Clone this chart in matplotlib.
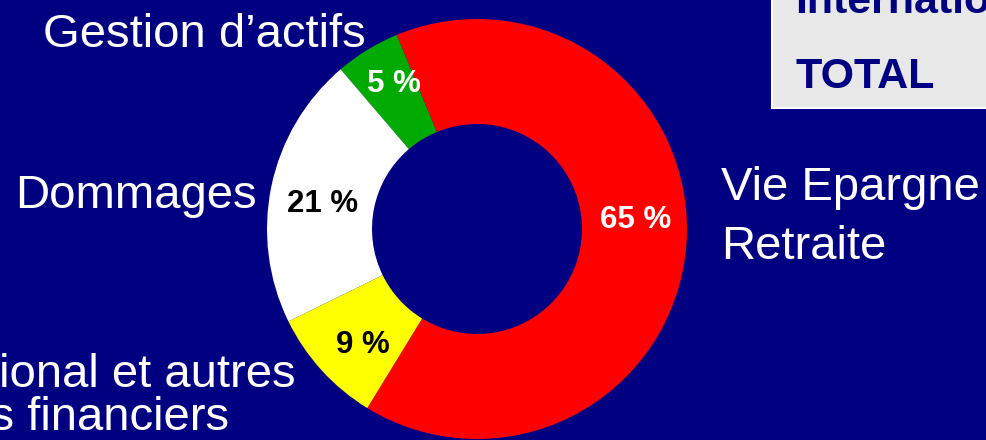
import matplotlib
matplotlib.use("Agg")
import matplotlib.pyplot as plt
from matplotlib.patches import Rectangle

# Data
categories = ["Vie Epargne Retraite", "Gestion d'actifs", "Dommages", "International et autres services financiers"]
shares = [65, 5, 21, 9]
slice_colors = ["#FF0000", "#00AA00", "#FFFFFF", "#FFFF00"]
pct_colors = ["white", "white", "black", "black"]

BG = "#000080"
W, H = 986, 440

plt.rcParams['font.family'] = ['Liberation Sans', 'DejaVu Sans']

fig = plt.figure(figsize=(W / 100, H / 100), dpi=100, facecolor=BG)
ax = fig.add_axes([0, 0, 1, 1])
ax.set_facecolor(BG)

cx, cy, R = 477, 440 - 229, 210
wedges, texts, autotexts = ax.pie(
    shares, colors=slice_colors, startangle=-121.5, counterclock=True,
    radius=R, center=(cx, cy), frame=True,
    wedgeprops=dict(width=R * 0.5, linewidth=0),
    autopct=lambda p: f"{round(p)} %", pctdistance=0.76,
    textprops=dict(fontsize=22.5, fontweight='bold'))
for t, c in zip(autotexts, pct_colors):
    t.set_color(c)
# nudge labels to match original placement
offsets = [(0, 22), (0, 9), (2, -7), (4, -9)]
for t, (dx, dy) in zip(autotexts, offsets):
    x, y = t.get_position()
    t.set_position((x + dx, y + dy))

ax.set_xlim(0, W)
ax.set_ylim(0, H)
ax.set_aspect('auto')
ax.axis('off')

lab = dict(color='white', fontsize=34, va='baseline')
ax.text(43, H - 47, "Gestion d’actifs", ha='left', **lab)
ax.text(15, H - 208, "Dommages", ha='left', **lab)
ax.text(721, H - 200, "Vie Epargne", ha='left', **lab)
ax.text(721, H - 259, "Retraite", ha='left', **lab)
ax.text(296, H - 387, "International et autres", ha='right', **lab)
ax.text(229, H - 430, "services financiers", ha='right', **lab)

# Top-right table box
ax.add_patch(Rectangle((772, H - 108), 240, 130, facecolor="#E8E8E8",
                       edgecolor="white", linewidth=1.5, zorder=1))
ax.text(795, H - 13, "International", color=BG, fontsize=31,
        fontweight='bold', va='baseline', ha='left', zorder=2)
ax.text(795, H - 88, "TOTAL", color=BG, fontsize=31,
        fontweight='bold', va='baseline', ha='left', zorder=2)

fig.savefig("out.png", dpi=100, facecolor=BG)
